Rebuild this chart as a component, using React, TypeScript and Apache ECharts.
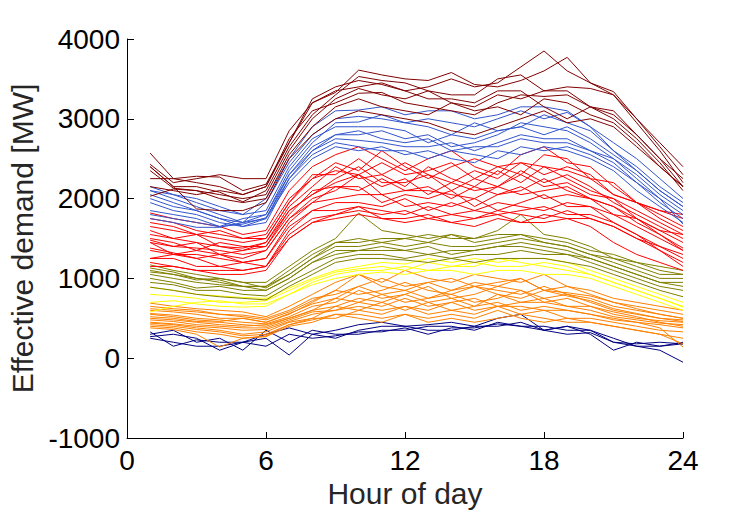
import React, { useEffect, useRef } from "react";
import * as echarts from "echarts";

const hours = [1, 2, 3, 4, 5, 6, 7, 8, 9, 10, 11, 12, 13, 14, 15, 16, 17, 18, 19, 20, 21, 22, 23, 24];
const xTicks = [0, 6, 12, 18, 24];
const yTicks = [-1000, 0, 1000, 2000, 3000, 4000];

const navyLines = [
  [330, 150, 230, 200, 200, 300, 380, 300, 350, 420, 450, 400, 420, 450, 400, 500, 550, 350, 400, 350, 200, 150, 100, -50],
  [270, 300, 250, 100, 200, 250, 40, 300, 250, 350, 400, 400, 350, 350, 400, 400, 450, 350, 400, 300, 100, 200, 150, 180],
  [300, 350, 200, 250, 100, 350, 200, 350, 300, 300, 350, 350, 400, 400, 350, 450, 400, 400, 350, 350, 250, 150, 150, 200],
  [250, 200, 150, 150, 200, 150, 300, 250, 280, 330, 330, 380, 300, 380, 380, 430, 400, 350, 300, 320, 200, 180, 200, 180],
];

const orangeLines = [
  [690, 650, 620, 600, 580, 520, 650, 800, 950, 1050, 950, 1100, 1000, 950, 1050, 1000, 950, 1050, 900, 850, 750, 700, 650, 600],
  [650, 620, 600, 550, 540, 500, 600, 750, 800, 900, 1000, 900, 950, 1000, 900, 950, 1000, 850, 900, 800, 700, 650, 600, 550],
  [600, 580, 550, 500, 500, 450, 550, 700, 850, 800, 850, 950, 850, 800, 900, 850, 800, 900, 800, 750, 650, 600, 550, 500],
  [560, 540, 500, 480, 450, 430, 520, 650, 700, 850, 750, 800, 900, 750, 800, 900, 850, 750, 800, 700, 600, 550, 500, 480],
  [520, 500, 460, 450, 420, 400, 500, 600, 750, 700, 800, 700, 750, 800, 700, 750, 850, 700, 750, 650, 550, 500, 470, 450],
  [480, 460, 420, 400, 380, 380, 480, 580, 600, 700, 650, 750, 650, 700, 750, 650, 700, 750, 650, 600, 520, 480, 440, 420],
  [440, 420, 380, 350, 300, 330, 450, 500, 650, 600, 700, 600, 700, 600, 650, 700, 600, 650, 600, 550, 480, 450, 420, 380],
  [400, 380, 330, 300, 250, 280, 420, 500, 500, 600, 550, 650, 550, 600, 550, 650, 550, 600, 500, 500, 450, 400, 350, 330],
  [380, 360, 300, 140, 250, 270, 400, 450, 550, 500, 450, 550, 500, 550, 500, 600, 500, 450, 500, 450, 400, 350, 300, 250],
  [620, 600, 580, 550, 520, 480, 580, 720, 850, 1050, 900, 850, 950, 850, 950, 900, 1000, 850, 820, 780, 700, 620, 550, 500],
  [550, 520, 480, 460, 500, 450, 560, 680, 750, 900, 800, 850, 750, 850, 900, 800, 750, 850, 780, 720, 620, 560, 500, 460],
  [500, 480, 450, 420, 400, 420, 500, 600, 650, 750, 700, 800, 700, 750, 650, 800, 700, 700, 650, 650, 580, 520, 450, 400],
  [450, 430, 400, 380, 350, 360, 460, 550, 600, 650, 600, 650, 600, 700, 600, 650, 650, 600, 600, 550, 500, 450, 380, 140],
  [420, 400, 360, 330, 280, 300, 420, 480, 550, 550, 500, 550, 450, 500, 450, 500, 550, 500, 450, 450, 400, 350, 300, 180],
];

const yellowLines = [
  [890, 850, 800, 780, 760, 750, 880, 1000, 1100, 1150, 1200, 1180, 1250, 1200, 1250, 1200, 1250, 1250, 1200, 1100, 1000, 900, 800, 700],
  [580, 650, 700, 720, 680, 680, 800, 950, 1050, 1100, 1100, 1150, 1100, 1150, 1200, 1150, 1150, 1200, 1150, 1050, 950, 850, 750, 640],
  [800, 780, 750, 700, 700, 720, 850, 980, 1080, 1120, 1150, 1100, 1200, 1150, 1150, 1250, 1200, 1150, 1100, 1050, 950, 850, 750, 650],
  [700, 720, 680, 650, 640, 650, 800, 920, 1000, 1050, 1080, 1050, 1100, 1100, 1050, 1100, 1100, 1050, 1050, 1000, 900, 800, 700, 600],
];

const oliveLines = [
  [1170, 1100, 1050, 1000, 950, 950, 1150, 1350, 1500, 1820, 1600, 1550, 1500, 1550, 1500, 1600, 1800, 1550, 1500, 1400, 1250, 1200, 1150, 1100],
  [1130, 1080, 1000, 950, 900, 900, 1100, 1300, 1450, 1450, 1500, 1500, 1550, 1500, 1500, 1550, 1550, 1500, 1450, 1350, 1300, 1200, 1100, 1050],
  [1080, 1050, 980, 1000, 950, 880, 1050, 1250, 1400, 1400, 1450, 1400, 1450, 1400, 1400, 1450, 1500, 1450, 1400, 1300, 1200, 1100, 1000, 1000],
  [1000, 950, 880, 900, 850, 850, 1000, 1200, 1350, 1350, 1400, 1350, 1300, 1350, 1350, 1400, 1400, 1350, 1300, 1250, 1150, 1050, 950, 900],
  [950, 920, 850, 850, 800, 780, 950, 1100, 1250, 1300, 1300, 1250, 1300, 1250, 1300, 1300, 1350, 1300, 1300, 1200, 1100, 1000, 900, 850],
  [890, 850, 800, 770, 750, 730, 900, 1050, 1200, 1250, 1250, 1230, 1200, 1250, 1200, 1250, 1250, 1250, 1200, 1150, 1050, 950, 850, 770],
  [1050, 1000, 950, 920, 900, 850, 1000, 1200, 1300, 1350, 1350, 1350, 1400, 1300, 1350, 1400, 1450, 1400, 1350, 1250, 1150, 1050, 950, 950],
  [1100, 1050, 1000, 980, 900, 900, 1050, 1250, 1450, 1500, 1450, 1500, 1450, 1550, 1450, 1500, 1550, 1450, 1400, 1300, 1250, 1150, 1050, 1050],
];

const redLines = [
  [1820, 1750, 1700, 1650, 1550, 1600, 2100, 2400, 2550, 2650, 2500, 2350, 2500, 2600, 2400, 2300, 2550, 2650, 2450, 2400, 2150, 1950, 1850, 1800],
  [1750, 1700, 1600, 1550, 1500, 1550, 2000, 2250, 2450, 2350, 2600, 2400, 2250, 2400, 2500, 2400, 2300, 2550, 2500, 2250, 2200, 1950, 1750, 1600],
  [1650, 1600, 1550, 1500, 1450, 1500, 1950, 2300, 2300, 2500, 2300, 2450, 2300, 2200, 2350, 2250, 2450, 2300, 2400, 2300, 2050, 1950, 1850, 1750],
  [1600, 1500, 1550, 1400, 1350, 1450, 1900, 2150, 2400, 2250, 2300, 2150, 2400, 2250, 2150, 2350, 2200, 2400, 2250, 2100, 2000, 1850, 1700, 1550],
  [1550, 1500, 1450, 1400, 1380, 1450, 1850, 2050, 2200, 2300, 2150, 2250, 2050, 2200, 2100, 2150, 2300, 2150, 2200, 2050, 2000, 1750, 1550, 1350],
  [1500, 1450, 1350, 1450, 1400, 1400, 1800, 2100, 2150, 2100, 2250, 2100, 2150, 2000, 2150, 2050, 2100, 2250, 2100, 2000, 1900, 1750, 1600, 1450],
  [1450, 1400, 1380, 1350, 1300, 1350, 1750, 1950, 2150, 2150, 1950, 2050, 2000, 2100, 1900, 2050, 2150, 2000, 2050, 2000, 1800, 1750, 1600, 1550],
  [1450, 1300, 1350, 1300, 1200, 1250, 1700, 1950, 2000, 2050, 2050, 1900, 1950, 1900, 2000, 1850, 1950, 2050, 1900, 1900, 1800, 1650, 1500, 1350],
  [1350, 1300, 1300, 1250, 1200, 1250, 1650, 1850, 1950, 1950, 1900, 2000, 1850, 1950, 1850, 1950, 1900, 1850, 1950, 1900, 1700, 1550, 1350, 1150],
  [1250, 1300, 1250, 1150, 1200, 1150, 1600, 1850, 1850, 1900, 1850, 1800, 1900, 1800, 1850, 1800, 1850, 1900, 1800, 1800, 1700, 1550, 1400, 1250],
  [1250, 1250, 1150, 1150, 1100, 1150, 1550, 1750, 1800, 1850, 1800, 1850, 1750, 1800, 1750, 1850, 1800, 1750, 1850, 1750, 1650, 1500, 1350, 1200],
  [1200, 1150, 1100, 1100, 1100, 1150, 1500, 1700, 1750, 1800, 1750, 1700, 1750, 1700, 1650, 1750, 1700, 1700, 1750, 1750, 1650, 1500, 1400, 1300],
  [1700, 1650, 1550, 1600, 1500, 1500, 1950, 2250, 2350, 2300, 2450, 2300, 2350, 2450, 2250, 2400, 2450, 2400, 2350, 2250, 2050, 1950, 1800, 1650],
  [1480, 1400, 1450, 1300, 1350, 1400, 1850, 2050, 2250, 2400, 2200, 2200, 2300, 2100, 2250, 2150, 2350, 2200, 2300, 2150, 1950, 1800, 1650, 1500],
  [1380, 1320, 1250, 1300, 1250, 1350, 1750, 2000, 2100, 2300, 2050, 2100, 2100, 2050, 2000, 2150, 2050, 2100, 2150, 2000, 1900, 1700, 1550, 1380],
  [1150, 1150, 1100, 1050, 1050, 1100, 1500, 1700, 1800, 1900, 1750, 1750, 1800, 1700, 1750, 1800, 1700, 1800, 1750, 1650, 1450, 1300, 1200, 1100],
];

const blueLines = [
  [2150, 2050, 1950, 1850, 1800, 2000, 2500, 2900, 3100, 3110, 3150, 3050, 3100, 3100, 3000, 3050, 3150, 3150, 3100, 2900, 2700, 2500, 2250, 2000],
  [2100, 2000, 1900, 1800, 1700, 1950, 2450, 2800, 3000, 3030, 3000, 2950, 3000, 2950, 2900, 3000, 3100, 3000, 3080, 2900, 2600, 2400, 2150, 1950],
  [2050, 1950, 1850, 1750, 1700, 1800, 2350, 2700, 2950, 2960, 3050, 2950, 2900, 2800, 2950, 2850, 2900, 3050, 2950, 2850, 2600, 2350, 2100, 1900],
  [1950, 1850, 1800, 1700, 1650, 1750, 2300, 2650, 2800, 2800, 2850, 2750, 2800, 2650, 2700, 2800, 2950, 2900, 2850, 2700, 2500, 2300, 2050, 1850],
  [1850, 1800, 1750, 1650, 1750, 1800, 2300, 2600, 2750, 2730, 2700, 2650, 2650, 2700, 2600, 2700, 2800, 2750, 2750, 2600, 2450, 2200, 2000, 1800],
  [1800, 1750, 1700, 1650, 1680, 1760, 2250, 2550, 2700, 2650, 2600, 2600, 2500, 2600, 2550, 2500, 2650, 2600, 2650, 2550, 2400, 2200, 1950, 1750],
  [1750, 1700, 1640, 1640, 1700, 1750, 2200, 2500, 2650, 2600, 2650, 2550, 2600, 2500, 2450, 2600, 2550, 2650, 2600, 2500, 2350, 2100, 1900, 1700],
  [2100, 2050, 2000, 1900, 1800, 1850, 2400, 2750, 2900, 2900, 2900, 2850, 2700, 2800, 2750, 2850, 2900, 2800, 2900, 2750, 2550, 2350, 2100, 1900],
  [2000, 1900, 1850, 1750, 1650, 1700, 2250, 2600, 2800, 2850, 2750, 2700, 2750, 2600, 2650, 2650, 2750, 2700, 2700, 2600, 2500, 2250, 2000, 1680],
];

const darkRedLines = [
  [2570, 2250, 2200, 2150, 2050, 2150, 2700, 3250, 3400, 3480, 3430, 3350, 3400, 3500, 3400, 3450, 3650, 3850, 3600, 3450, 3300, 3000, 2700, 2400],
  [2430, 2200, 2250, 2300, 2250, 2250, 2850, 3200, 3330, 3610, 3550, 3500, 3480, 3580, 3430, 3400, 3480, 3600, 3770, 3450, 3340, 3000, 2650, 2300],
  [2400, 2150, 2150, 2080, 1960, 2100, 2650, 3050, 3300, 3530, 3480, 3450, 3350, 3300, 3300, 3500, 3550, 3350, 3400, 3380, 3300, 2950, 2600, 2200],
  [2350, 2130, 2100, 2050, 2000, 2050, 2600, 3000, 3250, 3380, 3300, 3250, 3350, 3200, 3150, 3300, 3250, 3350, 3350, 3150, 3100, 2800, 2500, 2150],
  [2150, 2100, 2050, 2100, 2050, 2150, 2750, 3100, 3200, 3320, 3330, 3200, 3150, 3100, 3050, 3200, 3300, 3280, 3300, 3150, 3000, 2750, 2450, 2100],
  [2030, 2120, 2100, 2000, 1950, 2000, 2550, 2900, 3150, 3250, 3150, 3100, 3050, 3200, 3100, 3150, 3050, 3250, 3200, 3050, 2950, 2700, 2400, 2150],
  [2400, 2150, 1870, 1850, 1850, 1950, 2500, 2800, 3000, 3100, 3050, 3000, 2950, 2850, 2800, 2900, 3000, 3100, 2950, 3000, 2900, 2650, 2400, 2150],
  [2250, 2250, 2280, 2270, 2100, 2180, 2700, 3200, 3350, 3400, 3450, 3350, 3250, 3250, 3200, 3350, 3350, 3150, 3000, 3150, 3050, 2800, 2500, 2250],
];

const groups: { lines: number[][]; color: string }[] = [
  { lines: navyLines, color: "#000080" },
  { lines: orangeLines, color: "#ff8000" },
  { lines: yellowLines, color: "#ffff00" },
  { lines: oliveLines, color: "#808000" },
  { lines: redLines, color: "#ff0000" },
  { lines: blueLines, color: "#3355cc" },
  { lines: darkRedLines, color: "#800000" },
];

const FONT = "Liberation Sans, Arial, Helvetica, sans-serif";

export default function App() {
  const ref = useRef<HTMLDivElement>(null);
  useEffect(() => {
    if (!ref.current) return;
    const chart = echarts.init(ref.current, undefined, { renderer: "svg" });
    const series: any[] = [];
    groups.forEach((g) => {
      g.lines.forEach((vals) => {
        series.push({
          type: "line",
          data: hours.map((h, i) => [h, vals[i]]),
          symbol: "none",
          showSymbol: false,
          silent: true,
          lineStyle: { color: g.color, width: 1 },
          emphasis: { disabled: true },
        });
      });
    });
    chart.setOption({
      animation: false,
      backgroundColor: "#ffffff",
      grid: {
        left: 127,
        right: 71,
        top: 39,
        bottom: 76,
        containLabel: false,
        outerBoundsMode: "none",
      },
      xAxis: {
        type: "value",
        min: xTicks[0],
        max: xTicks[xTicks.length - 1],
        interval: 6,
        name: "Hour of day",
        nameLocation: "middle",
        nameGap: 37,
        nameTextStyle: { fontFamily: FONT, fontSize: 30, color: "#262626" },
        axisLine: { show: true, onZero: false, lineStyle: { color: "#000", width: 1 } },
        axisTick: { show: true, inside: true, length: 6, lineStyle: { color: "#000" } },
        axisLabel: {
          fontFamily: FONT,
          fontSize: 28,
          color: "#000",
          margin: 8,
          formatter: (v: number) => String(v),
        },
        splitLine: { show: false },
      },
      yAxis: {
        type: "value",
        min: yTicks[0],
        max: yTicks[yTicks.length - 1],
        interval: 1000,
        name: "Effective demand [MW]",
        nameLocation: "middle",
        nameGap: 86,
        nameTextStyle: { fontFamily: FONT, fontSize: 30, color: "#262626" },
        axisLine: { show: true, onZero: false, lineStyle: { color: "#000", width: 1 } },
        axisTick: { show: true, inside: true, length: 7, lineStyle: { color: "#000" } },
        axisLabel: {
          fontFamily: FONT,
          fontSize: 28,
          color: "#000",
          margin: 7,
          formatter: (v: number) => String(v),
        },
        splitLine: { show: false },
      },
      series,
    });
    return () => chart.dispose();
  }, []);
  return (
    <div
      ref={ref}
      style={{ position: "fixed", left: 0, top: 0, width: 754, height: 514, background: "#fff" }}
    />
  );
}
